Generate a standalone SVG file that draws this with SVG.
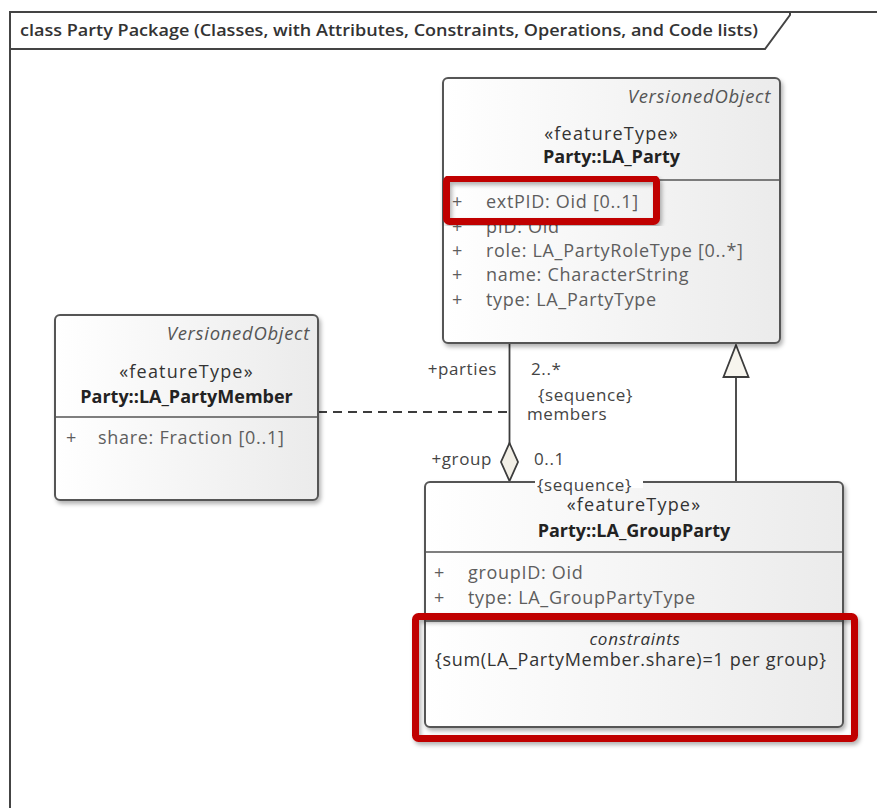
<svg xmlns="http://www.w3.org/2000/svg" width="877" height="808" viewBox="0 0 877 808">
  <style>
    .t { font-family: "Open Sans", "Noto Sans", "DejaVu Sans", sans-serif; font-size: 18px; fill: #3a3a3a; letter-spacing: 0.7px; }
    .attr { fill: #5e5e5e; }
    .it { font-style: italic; fill: #555; font-size: 18.5px; }
    .bold { font-weight: bold; fill: #222; letter-spacing: 0; }
    .st { fill: #333; }
    .stereo { fill: #333; letter-spacing: 1.2px; }
    .lbl { font-size: 17px; fill: #444; letter-spacing: 0.6px; }
    .box { fill: url(#boxFill); stroke: #555; stroke-width: 2; }
    .div { stroke: #555; stroke-width: 1.6; }
    .conn { stroke: #3c3c3c; stroke-width: 1.8; fill: none; }
    .hl { fill: none; stroke: #c00000; stroke-width: 7; }
    .frame { stroke: #444; stroke-width: 2; fill: none; }
  </style>
  <defs>
    <linearGradient id="boxFill" x1="0" y1="0" x2="1" y2="0">
      <stop offset="0" stop-color="#ffffff"/>
      <stop offset="1" stop-color="#ebebeb"/>
    </linearGradient>
    <filter id="shadow" x="-5%" y="-5%" width="115%" height="115%">
      <feDropShadow dx="2" dy="3" stdDeviation="2" flood-color="#000" flood-opacity="0.3"/>
    </filter>
  </defs>

  <rect width="877" height="808" fill="#ffffff"/>

  <!-- diagram frame with title tab -->
  <g id="frame">
    <path class="frame" d="M10,808 V12 H877"/>
    <path class="frame" d="M10,49 H765 L790,15 V12"/>
    <text x="20" y="36" textLength="738" lengthAdjust="spacingAndGlyphs" style="font-family:'Open Sans','Noto Sans',sans-serif;font-size:17px;font-weight:600;fill:#333">class Party Package (Classes, with Attributes, Constraints, Operations, and Code lists)</text>
  </g>

  <!-- connectors -->
  <g id="connectors">
    <!-- aggregation LA_GroupParty (group) <>- LA_Party (parties) -->
    <line class="conn" x1="509.5" y1="343" x2="509.5" y2="444"/>
    <polygon points="509.5,443 518,462 509.5,481 501,462" fill="#f2efe6" stroke="#3c3c3c" stroke-width="1.8"/>
    <!-- association class link -->
    <line class="conn" x1="318" y1="412" x2="509" y2="412" stroke-dasharray="9,6"/>
    <!-- generalization LA_GroupParty -> LA_Party -->
    <line class="conn" x1="736" y1="482" x2="736" y2="377"/>
    <polygon points="736,345 748.5,377 723.5,377" fill="#f7f5ee" stroke="#3c3c3c" stroke-width="1.8"/>

    <text class="t lbl" x="497" y="375" text-anchor="end">+parties</text>
    <text class="t lbl" x="531" y="375">2..*</text>
    <text class="t lbl" x="538" y="401">{sequence}</text>
    <text class="t lbl" x="527" y="420">members</text>
    <text class="t lbl" x="492" y="465" text-anchor="end">+group</text>
    <text class="t lbl" x="534" y="465">0..1</text>
  </g>

  <!-- Party::LA_Party -->
  <g id="LA_Party">
    <rect class="box" x="443" y="78" width="337" height="265" rx="5" filter="url(#shadow)"/>
    <line class="div" x1="443" y1="180" x2="780" y2="180"/>
    <text class="t it" x="771" y="103" text-anchor="end">VersionedObject</text>
    <text class="t stereo" x="611.5" y="140" text-anchor="middle">«featureType»</text>
    <text class="t bold" x="611.5" y="163" text-anchor="middle">Party::LA_Party</text>
    <text class="t attr" x="452" y="208">+</text><text class="t attr" x="486" y="208">extPID: Oid [0..1]</text>
    <text class="t attr" x="452" y="233">+</text><text class="t attr" x="486" y="233">pID: Oid</text>
    <text class="t attr" x="452" y="257">+</text><text class="t attr" x="486" y="257">role: LA_PartyRoleType [0..*]</text>
    <text class="t attr" x="452" y="281">+</text><text class="t attr" x="486" y="281">name: CharacterString</text>
    <text class="t attr" x="452" y="306">+</text><text class="t attr" x="486" y="306">type: LA_PartyType</text>
    <rect class="hl" x="446.5" y="178.5" width="210" height="43" rx="3" filter="url(#shadow)"/>
  </g>

  <!-- Party::LA_PartyMember -->
  <g id="LA_PartyMember">
    <rect class="box" x="55" y="315" width="263" height="185" rx="5" filter="url(#shadow)"/>
    <line class="div" x1="55" y1="417" x2="318" y2="417"/>
    <text class="t it" x="310" y="340" text-anchor="end">VersionedObject</text>
    <text class="t stereo" x="186.5" y="378" text-anchor="middle">«featureType»</text>
    <text class="t bold" x="186.5" y="403" text-anchor="middle">Party::LA_PartyMember</text>
    <text class="t attr" x="66" y="444">+</text><text class="t attr" x="98" y="444">share: Fraction [0..1]</text>
  </g>

  <!-- Party::LA_GroupParty -->
  <g id="LA_GroupParty">
    <rect class="box" x="425" y="482" width="418" height="245" rx="5" filter="url(#shadow)"/>
    <line class="div" x1="425" y1="552" x2="843" y2="552"/>
    <line class="div" x1="425" y1="621" x2="843" y2="621"/>
    <rect x="535" y="478" width="108" height="10" fill="#ffffff"/>
    <text class="t lbl" x="537" y="491">{sequence}</text>
    <text class="t stereo" x="634" y="511" text-anchor="middle">«featureType»</text>
    <text class="t bold" x="634" y="537" text-anchor="middle">Party::LA_GroupParty</text>
    <text class="t attr" x="434" y="579">+</text><text class="t attr" x="468" y="579">groupID: Oid</text>
    <text class="t attr" x="434" y="604">+</text><text class="t attr" x="468" y="604">type: LA_GroupPartyType</text>
    <text class="t it" x="635" y="645" text-anchor="middle" style="fill:#333;font-size:17px">constraints</text>
    <text class="t st" x="435" y="666">{sum(LA_PartyMember.share)=1 per group}</text>
    <rect class="hl" x="415.5" y="616.5" width="439" height="122" rx="3" filter="url(#shadow)"/>
  </g>
</svg>
